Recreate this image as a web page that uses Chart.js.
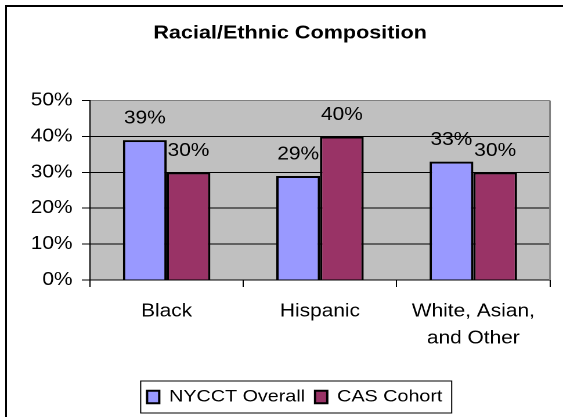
<!DOCTYPE html>
<html>
<head>
<meta charset="utf-8">
<script src="https://cdn.jsdelivr.net/npm/chart.js@4.4.1/dist/chart.umd.min.js"></script>
<style>
  html, body { margin: 0; padding: 0; background: #fff; overflow: hidden; width: 563px; height: 417px; }
  #frame { position: absolute; left: 5px; top: 5px; width: 700px; height: 600px; border: 2px solid #000; box-sizing: border-box; }
  #wrap { position: absolute; left: 0; top: 0; width: 485px; height: 417px; transform-origin: 0 0; transform: scaleX(1.1608); }
</style>
</head>
<body>
<div id="frame"></div>
<div id="wrap"><canvas id="c" width="485" height="417"></canvas></div>
<script>
const categories = ['Black', 'Hispanic', ['White, Asian,', 'and Other']];
const seriesNames = ['NYCCT Overall', 'CAS Cohort'];
const nycctOverall = [39, 29, 33];
const casCohort = [30, 40, 30];
const yTickValues = [0, 10, 20, 30, 40, 50];
const chartTitle = 'Racial/Ethnic Composition';

const FONT = '"Liberation Sans", Arial, Helvetica, sans-serif';

const plotBg = {
  id: 'plotBg',
  afterLayout(chart) {
    const lg = chart.legend;
    if (lg) { lg.left += 4; lg.right += 4; }
  },
  beforeDraw(chart) {
    const {ctx, chartArea: a} = chart;
    ctx.save();
    ctx.fillStyle = '#C0C0C0';
    ctx.fillRect(a.left, a.top, a.right - a.left, a.bottom - a.top);
    ctx.restore();
  },
  afterDatasetsDraw(chart) {
    const {ctx, chartArea: a} = chart;
    ctx.save();
    ctx.strokeStyle = '#808080';
    ctx.lineWidth = 1.5;
    ctx.beginPath();
    ctx.moveTo(a.right, a.top);
    ctx.lineTo(a.right, a.bottom);
    ctx.stroke();
    ctx.fillStyle = '#000';
    ctx.font = '18px ' + FONT;
    ctx.textAlign = 'center';
    ctx.textBaseline = 'middle';
    chart.data.datasets.forEach((ds, di) => {
      const meta = chart.getDatasetMeta(di);
      meta.data.forEach((bar, i) => {
        ctx.fillText(ds.data[i] + '%', bar.x, bar.y - 21.5);
      });
    });
    ctx.restore();
  }
};

const legendBorder = {
  id: 'legendBorder',
  afterDraw(chart) {
    const lg = chart.legend;
    if (!lg || !lg.legendHitBoxes || !lg.legendHitBoxes.length) return;
    const hb = lg.legendHitBoxes;
    const left = hb[0].left - 5.5;
    const last = hb[hb.length - 1];
    const right = last.left + last.width + 8;
    const cy = lg.top + lg.options.labels.padding + 8.5;
    const {ctx} = chart;
    ctx.save();
    ctx.strokeStyle = '#000';
    ctx.lineWidth = 1;
    ctx.strokeRect(left, cy - 16, right - left, 32);
    ctx.restore();
  }
};

new Chart(document.getElementById('c'), {
  type: 'bar',
  data: {
    labels: categories,
    datasets: [
      { label: seriesNames[0], data: nycctOverall, backgroundColor: '#9999FF', borderColor: '#000', borderWidth: 2 },
      { label: seriesNames[1], data: casCohort, backgroundColor: '#993366', borderColor: '#000', borderWidth: 2 }
    ]
  },
  options: {
    responsive: false,
    animation: false,
    devicePixelRatio: 2,
    layout: { padding: { left: 26, right: 11.2, top: 0, bottom: 1.5 } },
    datasets: { bar: { categoryPercentage: 0.57, barPercentage: 1.0 } },
    plugins: {
      title: {
        display: true,
        text: chartTitle,
        color: '#000',
        font: { family: FONT, size: 18.6, weight: 'bold' },
        padding: { top: 22, bottom: 56.3 }
      },
      legend: {
        position: 'bottom',
        labels: {
          color: '#000',
          font: { family: FONT, size: 17 },
          boxWidth: 10.5,
          boxHeight: 12.5,
          padding: 8.6,
          generateLabels(chart) {
            return chart.data.datasets.map((ds, i) => ({
              text: ds.label,
              fillStyle: ds.backgroundColor,
              strokeStyle: '#000',
              lineWidth: 2,
              fontColor: '#000',
              datasetIndex: i,
              hidden: false
            }));
          }
        }
      },
      tooltip: { enabled: false }
    },
    scales: {
      x: {
        offset: true,
        grid: { display: true, drawOnChartArea: false, drawTicks: true, tickLength: 7, offset: true, color: '#000', lineWidth: 1 },
        border: { display: true, color: '#000', width: 1 },
        ticks: { color: '#000', font: { family: FONT, size: 18, lineHeight: 1.5 }, padding: 11, maxRotation: 0, autoSkip: false },
        afterFit(scale) { scale.height = 99.9; }
      },
      y: {
        min: 0,
        max: 50,
        afterBuildTicks(scale) { scale.ticks = yTickValues.map(v => ({ value: v })); },
        grid: {
          color: (c) => (c.tick && c.tick.value === 50 ? '#808080' : '#000'),
          tickColor: '#000',
          lineWidth: 1,
          tickLength: 7,
          drawTicks: true
        },
        border: { display: true, color: '#000', width: 1 },
        ticks: { color: '#000', font: { family: FONT, size: 18 }, padding: 8, callback: (v) => v + '%' },
        afterFit(scale) { scale.width = 51.5; }
      }
    }
  },
  plugins: [plotBg, legendBorder]
});
</script>
</body>
</html>
